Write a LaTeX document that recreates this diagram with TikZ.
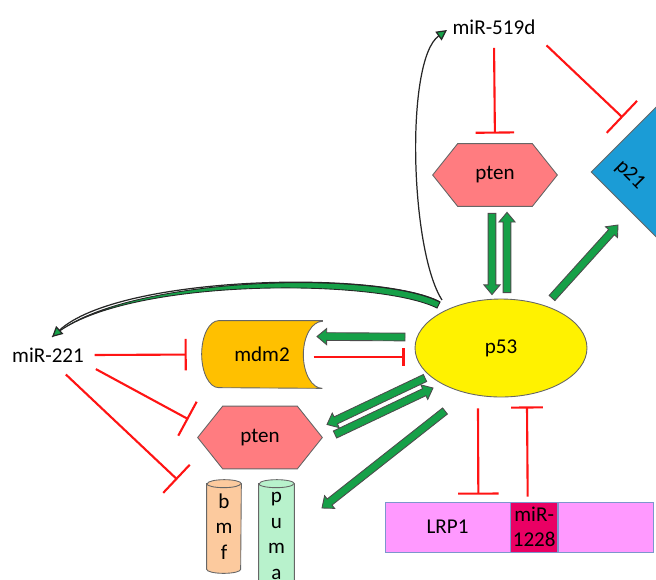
\documentclass[tikz,border=0pt]{standalone}
\usepackage{fontspec}
\setmainfont{Carlito}
\usetikzlibrary{shapes.geometric, arrows.meta, positioning, calc, backgrounds}

\definecolor{ptenred}{RGB}{255,124,128}
\definecolor{mdmorange}{RGB}{255,192,0}
\definecolor{pblue}{RGB}{27,156,214}
\definecolor{bmfpeach}{RGB}{252,202,158}
\definecolor{pumamint}{RGB}{184,242,204}
\definecolor{lrpviolet}{RGB}{255,153,255}
\definecolor{lrpedge}{RGB}{125,150,205}
\definecolor{mirpink}{RGB}{234,0,100}
\definecolor{inhred}{RGB}{255,20,20}
\definecolor{arrgreen}{RGB}{22,160,72}

% block arrow between two points
\newcommand{\garrow}[2]{%
    \coordinate (ga) at (#1);
    \coordinate (gb) at (#2);
    \coordinate (gh) at ($(gb)!5.5pt!(ga)$);
    \draw[blockarr] ($(ga)!2.2pt!90:(gb)$) -- ($(gh)!2.2pt!-90:(ga)$) -- ($(gh)!4.6pt!-90:(ga)$)
        -- (gb) -- ($(gh)!4.6pt!90:(ga)$) -- ($(gh)!2.2pt!90:(ga)$) -- ($(ga)!2.2pt!-90:(gb)$) -- cycle;}
% flat hexagon round a node
\newcommand{\hexdraw}[1]{%
    \draw[hexa] (#1.west) -- ($(#1.north west)+(25,0)$) -- ($(#1.north east)+(-25,0)$) -- (#1.east)
        -- ($(#1.south east)+(-25,0)$) -- ($(#1.south west)+(25,0)$) -- cycle;}

\begin{document}
\begin{tikzpicture}[
        x=0.02cm, y=0.02cm,
        font=\fontsize{12}{14.5}\selectfont,
        txt/.style={inner sep=4pt},
        outl/.style={draw=black!60, line width=0.5pt},
        hexa/.style={outl, fill=ptenred},
        shapebox/.style={rectangle, minimum width=2.48cm, minimum height=1.24cm, inner sep=0pt},
        ell/.style={ellipse, outl, fill=yellow, minimum width=3.44cm, minimum height=1.96cm},
        cylbox/.style={rectangle, align=center, inner sep=0pt, font=\fontsize{12}{14.7}\selectfont},
        lrpbox/.style={rectangle, draw=lrpedge, fill=lrpviolet, minimum height=1cm, inner sep=0pt, align=center},
        inhib/.style={draw=inhred, line width=1.2pt, -{Bar[width=22pt]}},
        blockarr/.style={draw=black!70, fill=arrgreen, line width=0.5pt},
        band/.style={draw=black!85, fill=arrgreen, line width=0.5pt},
        curvearr/.style={draw=black!85, line width=0.7pt, -{Triangle[length=6pt, width=6pt, fill=arrgreen]}}
    ]
    \useasboundingbox (0,0) rectangle (656,-579);
    \clip (0,0) rectangle (656,-579);

    % --- Nodes ---
    \node[txt] (mirA) at (494,-27) {miR-519d};
    \node[shapebox] (ptenT) at (495,-175) {pten};
    \node[ell] (p53) at (501,-348) {p53};
    \node[diamond, aspect=1, outl, fill=pblue, minimum width=3.56cm, minimum height=3.56cm, inner sep=0pt] (p21) at (680,-172) {};
    \node[txt, rotate=-45] (p21txt) at (630,-175) {p21};
    \node[txt] (mirB) at (48,-355) {miR-221};
    \node[shapebox, minimum width=2.4cm, minimum height=1.34cm] (mdm2) at (262,-354.5) {mdm2};
    \node[shapebox] (ptenL) at (260,-437.5) {pten};
    \node[cylbox, minimum width=0.68cm, minimum height=1.86cm] (bmf) at (224,-526.5) {b\\m\\f};
    \node[cylbox, minimum width=0.7cm, minimum height=2.24cm] (puma) at (276.5,-536) {p\\u\\m\\a};
    \node[lrpbox, minimum width=2.5cm] (lrp) at (447.5,-527) {LRP1};
    \node[lrpbox, fill=mirpink, minimum width=0.94cm, right=0pt of lrp] (mir1228) {miR-\\1228};
    \node[lrpbox, minimum width=1.9cm, right=0pt of mir1228] (lrpend) {};

    % --- Shapes behind the labels ---
    \begin{scope}[on background layer]
        \clip (0,0) rectangle (656,-579);
        \hexdraw{ptenT}
        \hexdraw{ptenL}
        \draw[outl, fill=mdmorange] (mdm2.north east) -- ($(mdm2.north west)+(17,0)$)
            arc[start angle=90, end angle=270, x radius=17, y radius=33.5]
            -- (mdm2.south east) arc[start angle=270, end angle=90, x radius=19, y radius=33.5] -- cycle;
        \draw[outl, fill=bmfpeach] ($(bmf.north west)+(0,-4)$) -- ($(bmf.south west)+(0,4)$)
            arc[start angle=180, end angle=360, x radius=17, y radius=4]
            -- ($(bmf.north east)+(0,-4)$) arc[start angle=0, end angle=180, x radius=17, y radius=4] -- cycle;
        \draw[outl] ($(bmf.north west)+(0,-4)$) arc[start angle=180, end angle=360, x radius=17, y radius=4];
        \draw[outl, fill=pumamint] ($(puma.north west)+(0,-4)$) -- ($(puma.north west)+(0,-130)$)
            -- ($(puma.north east)+(0,-130)$) -- ($(puma.north east)+(0,-4)$)
            arc[start angle=0, end angle=180, x radius=17.5, y radius=4] -- cycle;
        \draw[outl] ($(puma.north west)+(0,-4)$) arc[start angle=180, end angle=360, x radius=17.5, y radius=4];
    \end{scope}

    % --- Inhibitions ---
    \draw[inhib, shorten <=3.5pt, shorten >=5.7pt] (mirA.south) -- (ptenT.north);
    \draw[inhib, -{Bar[width=25pt]}, shorten <=3pt, shorten >=9pt] (mirA.south east) -- (p21);
    \draw[inhib, -{Bar[width=18pt]}, shorten <=2pt, shorten >=8.5pt] (mirB.east) -- (mdm2.west);
    \draw[inhib, shorten <=3pt, shorten >=6pt] (mirB.-15) -- (ptenL.168);
    \draw[inhib, shorten <=4pt, shorten >=23pt] (mirB.-49) -- (bmf.132);
    \draw[inhib, -{Bar[width=10pt]}, shorten <=-5pt, shorten >=5.7pt] ($(mdm2.east)+(0,-2.5)$) -- ($(mdm2.east -| p53.west)+(0,-2.5)$);
    \draw[inhib, -{Bar[width=23pt]}] ($(p53.south)+(-23,-11)$) -- ($(lrp.north east)+(-32,7)$);
    \draw[inhib, -{Bar[width=18pt]}] ($(mir1228.north)+(-6.5,5)$) -- ($(p53.south)+(26,-9)$);

    % --- Activations ---
    \garrow{$(ptenT.south)+(-3,-7)$}{$(p53.north)+(-9,4)$}
    \garrow{$(p53.north)+(6,6)$}{$(ptenT.south)+(12,-6)$}
    \garrow{$(p53)+(51,50)$}{$(p21)+(-62,-53)$}
    \garrow{$(p53)+(-96,11)$}{$(mdm2)+(55,18)$}
    \garrow{$(p53)+(-76,-30)$}{$(ptenL)+(67,13)$}
    \garrow{$(ptenL)+(75,3)$}{$(p53)+(-68,-40)$}
    \garrow{$(p53)+(-56,-63)$}{$(puma)+(45.5,28)$}

    % --- Feedback to the miRNAs ---
    \filldraw[band] ($(p53)+(-61,46)$) .. controls +(-60,32) and +(68,62) .. ($(mirB)+(4,18)$)
        .. controls +(68,60) and +(-60,30) .. ($(p53)+(-64,40)$) -- cycle;
    \draw[curvearr] ($(p53)+(-61,46)$) .. controls +(-60,32) and +(68,62) .. ($(mirB)+(4,18)$);
    \draw[curvearr] ($(p53)+(-59,48)$) .. controls +(-32,50) and +(-42,-30) .. ($(mirA)+(-47,-3)$);

\end{tikzpicture}
\end{document}
